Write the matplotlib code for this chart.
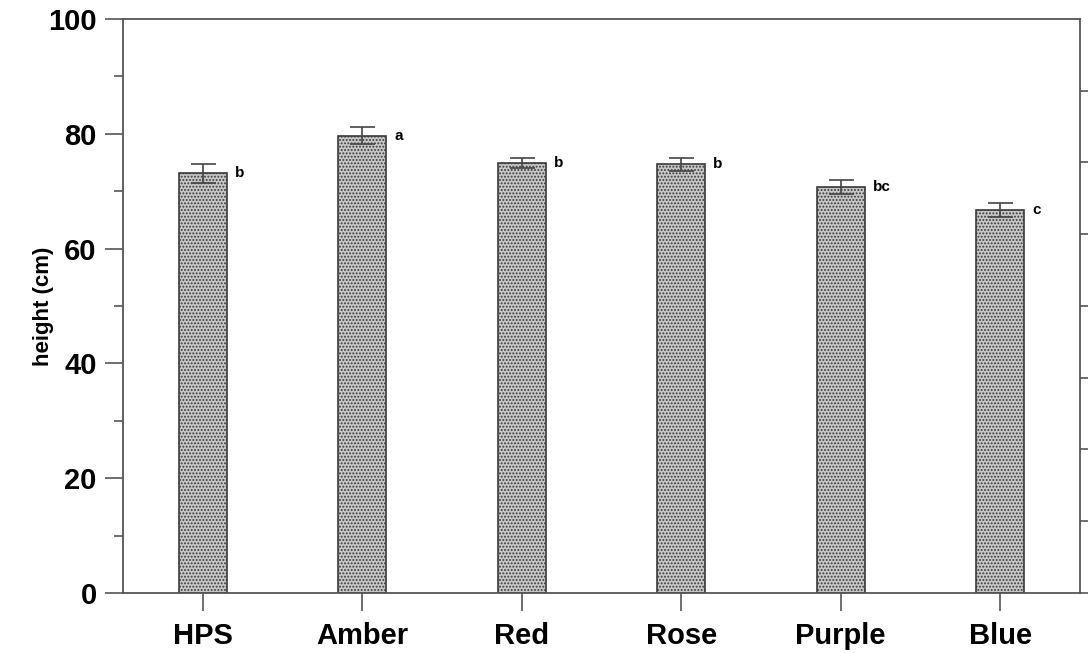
import matplotlib
matplotlib.use("Agg")
import matplotlib.pyplot as plt
import numpy as np

# data
treatments = ["HPS", "Amber", "Red", "Rose", "Purple", "Blue"]
heights = [73.1, 79.7, 74.9, 74.7, 70.7, 66.7]
errors = [1.7, 1.5, 0.9, 1.1, 1.2, 1.2]
letters = ["b", "a", "b", "b", "bc", "c"]

plt.rcParams["font.family"] = ["Liberation Sans", "DejaVu Sans"]
plt.rcParams["hatch.color"] = "#6a6a6a"
plt.rcParams["hatch.linewidth"] = 0.9

fig = plt.figure(figsize=(10.88, 6.53), dpi=100)
ax = fig.add_axes([0.1131, 0.0919, 0.9926 - 0.1131, 0.9709 - 0.0919])

x = np.arange(1, len(treatments) + 1)
ax.bar(x, heights, width=0.3, color="#c6c6c6", edgecolor="#3a3a3a",
       linewidth=1.2, hatch=".....", zorder=2)
ax.errorbar(x, heights, yerr=errors, fmt="none", ecolor="#444444",
            elinewidth=1.2, capsize=9, capthick=1.2, zorder=3)

for xi, h, lab in zip(x, heights, letters):
    ax.text(xi + 0.2, h, lab, fontsize=11, fontweight="bold",
            ha="left", va="center")

ax.set_xlim(0.5, 6.5)
ax.set_ylim(0, 100)
ax.set_xticks(x)
ax.set_xticklabels(treatments, fontsize=21, fontweight="bold")
ax.set_yticks(np.arange(0, 101, 20))
ax.set_yticks(np.arange(10, 100, 20), minor=True)
ax.set_yticklabels([str(v) for v in range(0, 101, 20)], fontsize=21,
                   fontweight="bold")
ax.set_ylabel("height (cm)", fontsize=16, fontweight="bold", labelpad=-4)

ax.tick_params(axis="y", which="major", direction="out", length=13,
               width=1.2, color="#555555", pad=6)
ax.tick_params(axis="y", which="minor", direction="out", length=6.5,
               width=1.2, color="#555555")
ax.tick_params(axis="x", direction="out", length=13, width=1.2,
               color="#555555", pad=8)
for s in ax.spines.values():
    s.set_color("#555555")
    s.set_linewidth(1.3)

# right-hand axis: unlabeled ticks dividing the height into 8 parts
ax2 = ax.twinx()
ax2.set_ylim(0, 8)
ax2.set_yticks(np.arange(0, 8))
ax2.set_yticklabels([])
ax2.tick_params(axis="y", direction="out", length=8, width=1.2,
                color="#555555")
for s in ax2.spines.values():
    s.set_visible(False)

fig.savefig("out.png", dpi=100)
